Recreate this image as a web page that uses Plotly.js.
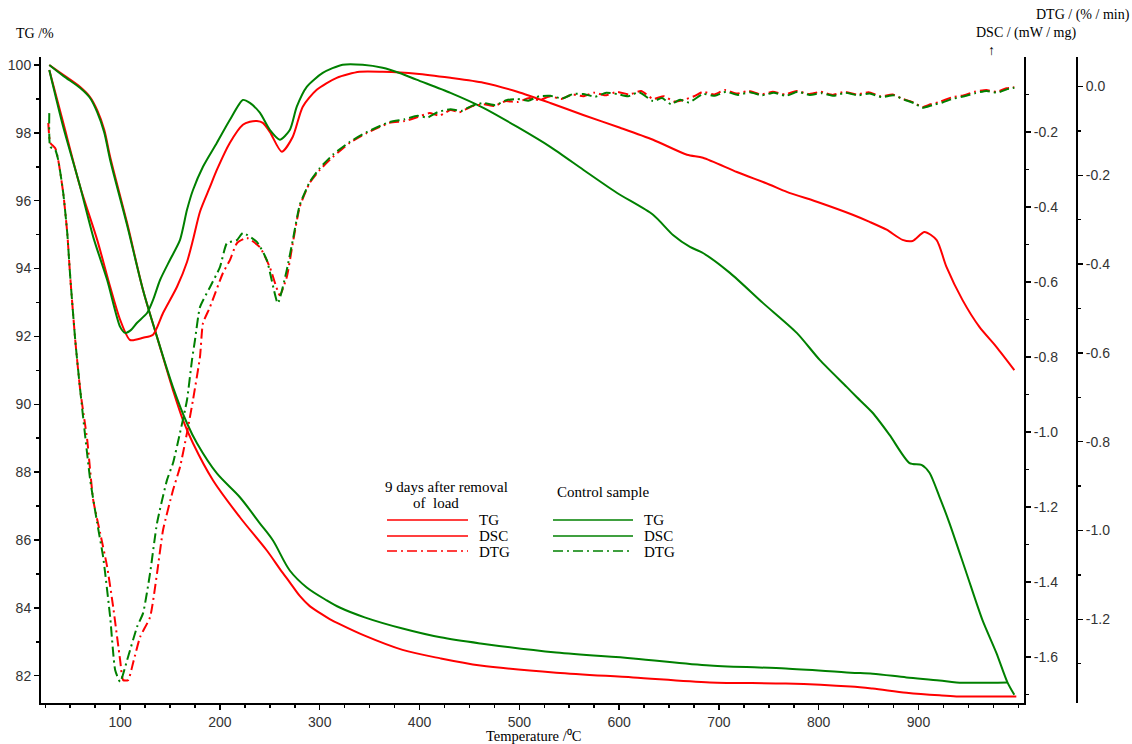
<!DOCTYPE html>
<html>
<head>
<meta charset="utf-8">
<script src="https://cdn.plot.ly/plotly-3.0.1.min.js"></script>
<style>
html,body{margin:0;padding:0;background:#fff;}
#chart{width:1132px;height:744px;}
</style>
</head>
<body>
<div id="chart"></div>
<script>
// ---------- data (temperature in °C) ----------
const redTG_T  = [29,43,60,70,77,84,90,107,123,137,153,163,173,193,220,247,260,270,280,290,300,310,320,345,383,421,461,537,614,691,767,832,854,888,921,938,970,998];
const redTG    = [100.0,99.71,99.35,99.05,98.67,98.10,97.29,95.34,93.36,91.98,90.41,89.53,88.85,87.76,86.67,85.69,85.15,84.75,84.35,84.05,83.85,83.67,83.52,83.18,82.76,82.51,82.30,82.09,81.95,81.80,81.77,81.68,81.62,81.50,81.42,81.39,81.39,81.39];

const greenTG_T = [29,43,60,70,77,84,90,107,123,137,153,167,177,197,220,240,253,270,287,307,320,345,383,421,461,537,614,691,767,832,854,888,921,938,989];
const greenTG   = [100.0,99.68,99.32,99.02,98.61,98.02,97.20,95.28,93.36,91.98,90.50,89.44,88.85,87.96,87.26,86.49,85.99,85.10,84.60,84.22,84.01,83.72,83.39,83.13,82.95,82.68,82.51,82.30,82.21,82.09,82.06,81.95,81.86,81.80,81.80];

const redDSC_T = [29,43,60,77,90,100,110,123,133,143,157,167,173,180,190,197,210,223,230,237,243,250,262,273,283,297,317,340,363,397,431,464,498,531,564,601,634,668,684,718,751,768,801,834,851,868,884,894,906,918,928,944,961,978,996];
const redDSC   = [-0.035,-0.176,-0.347,-0.488,-0.613,-0.701,-0.755,-0.749,-0.741,-0.683,-0.613,-0.547,-0.488,-0.413,-0.347,-0.301,-0.229,-0.181,-0.173,-0.171,-0.176,-0.200,-0.253,-0.213,-0.133,-0.088,-0.056,-0.040,-0.040,-0.045,-0.056,-0.069,-0.093,-0.123,-0.155,-0.189,-0.221,-0.261,-0.269,-0.307,-0.341,-0.360,-0.389,-0.421,-0.440,-0.461,-0.488,-0.491,-0.467,-0.488,-0.560,-0.648,-0.720,-0.773,-0.835];

const greenDSC_T = [29,43,60,73,87,100,105,111,117,127,133,140,150,160,167,173,183,197,210,223,230,240,250,260,270,277,287,303,323,343,363,380,397,431,464,498,531,564,598,634,654,671,684,711,744,778,801,828,838,854,871,891,903,911,921,931,948,964,978,989,996];
const greenDSC   = [-0.035,-0.187,-0.347,-0.480,-0.595,-0.720,-0.736,-0.728,-0.709,-0.683,-0.648,-0.595,-0.541,-0.488,-0.408,-0.355,-0.293,-0.229,-0.168,-0.115,-0.123,-0.149,-0.195,-0.221,-0.195,-0.133,-0.080,-0.043,-0.021,-0.021,-0.029,-0.043,-0.061,-0.096,-0.136,-0.187,-0.240,-0.301,-0.363,-0.421,-0.475,-0.507,-0.523,-0.576,-0.656,-0.736,-0.808,-0.880,-0.907,-0.949,-1.008,-1.083,-1.088,-1.109,-1.173,-1.243,-1.376,-1.501,-1.589,-1.667,-1.701];

const redDTG_T = [28,30,35,38,43,47,50,55,60,67,73,80,87,93,100,103,108,113,120,130,137,143,153,160,167,173,180,183,190,203,210,217,227,240,250,260,267,273,280,290,300,313,330,347,370,385,398,410,420,431,440,452,464,475,486,498,510,520,531,542,553,564,575,586,598,610,622,634,645,655,665,675,684,695,706,718,730,742,754,766,778,790,802,814,826,838,850,862,874,884,894,904,912,922,934,945,956,968,978,988,996];
const redDTG   = [-0.082,-0.127,-0.139,-0.166,-0.240,-0.330,-0.429,-0.571,-0.684,-0.796,-0.931,-1.006,-1.082,-1.172,-1.292,-1.337,-1.337,-1.298,-1.240,-1.195,-1.096,-0.999,-0.909,-0.857,-0.780,-0.706,-0.609,-0.533,-0.497,-0.420,-0.391,-0.353,-0.341,-0.362,-0.407,-0.470,-0.429,-0.353,-0.271,-0.217,-0.188,-0.159,-0.127,-0.105,-0.082,-0.078,-0.069,-0.060,-0.066,-0.053,-0.058,-0.045,-0.040,-0.044,-0.033,-0.035,-0.026,-0.031,-0.022,-0.028,-0.018,-0.022,-0.014,-0.020,-0.012,-0.018,-0.010,-0.028,-0.022,-0.034,-0.030,-0.022,-0.012,-0.018,-0.008,-0.016,-0.010,-0.018,-0.012,-0.018,-0.010,-0.017,-0.012,-0.019,-0.012,-0.018,-0.013,-0.022,-0.018,-0.028,-0.035,-0.046,-0.040,-0.034,-0.024,-0.020,-0.012,-0.008,-0.012,-0.004,-0.002];

const greenDTG_T = [29,30,35,38,43,47,50,55,60,70,77,83,90,95,100,107,117,123,130,137,147,153,160,167,172,175,180,190,200,207,217,223,237,247,258,267,273,280,290,300,313,330,347,370,385,398,408,418,431,442,453,464,476,487,498,509,520,531,543,554,564,576,587,598,609,620,634,643,652,661,670,684,696,707,719,731,743,755,767,779,791,803,815,827,839,851,863,875,886,896,904,914,924,934,946,957,968,979,989,996];
const greenDTG   = [-0.060,-0.136,-0.143,-0.166,-0.240,-0.330,-0.429,-0.571,-0.684,-0.886,-0.983,-1.060,-1.195,-1.314,-1.341,-1.292,-1.217,-1.186,-1.096,-0.983,-0.886,-0.848,-0.780,-0.706,-0.616,-0.571,-0.497,-0.452,-0.407,-0.353,-0.346,-0.330,-0.350,-0.391,-0.488,-0.413,-0.346,-0.267,-0.215,-0.184,-0.154,-0.125,-0.103,-0.080,-0.074,-0.066,-0.070,-0.058,-0.051,-0.055,-0.043,-0.037,-0.042,-0.031,-0.028,-0.032,-0.022,-0.021,-0.027,-0.017,-0.017,-0.023,-0.014,-0.017,-0.022,-0.013,-0.033,-0.026,-0.040,-0.030,-0.036,-0.017,-0.021,-0.012,-0.019,-0.013,-0.020,-0.014,-0.021,-0.012,-0.019,-0.015,-0.021,-0.014,-0.020,-0.016,-0.024,-0.020,-0.030,-0.038,-0.048,-0.042,-0.036,-0.028,-0.022,-0.015,-0.010,-0.014,-0.006,-0.003];

// tick labels
const xTicks = [100,200,300,400,500,600,700,800,900];
const tgTicks = [82,84,86,88,90,92,94,96,98,100];
const dscTickVals = [-0.2,-0.4,-0.6,-0.8,-1.0,-1.2,-1.4,-1.6];
const dscTickText = ["-0.2","-0.4","-0.6","-0.8","-1.0","-1.2","-1.4","-1.6"];
const dtgTickVals = [0,-0.2,-0.4,-0.6,-0.8,-1.0,-1.2];
const dtgTickText = ["0.0","-0.2","-0.4","-0.6","-0.8","-1.0","-1.2"];

const RED = "#ff0000", GREEN = "#008000";
const DASHDOT = "10px,4px,2px,4px";

function tr(x, y, color, axis, dash, name, sm){
  return {x:x, y:y, yaxis:axis, type:"scatter", mode:"lines", name:name,
    line:{color:color, width:2, dash:dash||"solid", shape:"spline", smoothing:sm||0.5},
    showlegend:false, hoverinfo:"skip"};
}

const traces = [
  tr(redTG_T, redTG, RED, "y", null, "TG", 0.9),
  tr(greenTG_T, greenTG, GREEN, "y", null, "TG", 0.9),
  tr(redDSC_T, redDSC, RED, "y2", null, "DSC", 0.7),
  tr(greenDSC_T, greenDSC, GREEN, "y2", null, "DSC", 0.7),
  tr(redDTG_T, redDTG, RED, "y3", DASHDOT, "DTG", 0.5),
  tr(greenDTG_T, greenDTG, GREEN, "y3", DASHDOT, "DTG", 0.5)
];

// pixel helpers for annotations (plot area: x 41..1077, y 57..703)
const L=41, R=1077, T=57, B=703;
const px = v => (v-L)/(R-L);
const py = v => (B-v)/(B-T);
const serif = "Liberation Serif, Times New Roman, serif";

function ann(text, x, y, size, xanchor){
  return {text:text, x:px(x), y:py(y), xref:"paper", yref:"paper", showarrow:false,
    xanchor:xanchor||"center", yanchor:"middle", font:{family:serif, size:size||15, color:"#000"}};
}
function legLine(x0, x1, y, color, dash){
  return {type:"line", xref:"paper", yref:"paper", x0:px(x0), x1:px(x1), y0:py(y), y1:py(y),
    line:{color:color, width:1.5, dash:dash||"solid"}};
}

const axisCommon = {showline:true, linecolor:"#000", linewidth:2, ticks:"outside", ticklen:5,
  tickcolor:"#000", tickwidth:1.5, showgrid:false, zeroline:false,
  tickfont:{family:"Liberation Sans, Arial, sans-serif", size:14, color:"#333"}};

const layout = {
  width:1132, height:744,
  margin:{l:L, r:1132-R, t:T, b:744-B, pad:0},
  paper_bgcolor:"#fff", plot_bgcolor:"#fff",
  showlegend:false,
  xaxis: Object.assign({}, axisCommon, {
    domain:[0, (1024-L)/(R-L)], range:[20.7, 1005.7], tickvals:xTicks,
    minor:{dtick:25, tick0:0, ticks:"outside", ticklen:3, tickcolor:"#000"}
  }),
  yaxis: Object.assign({}, axisCommon, {
    range:[81.195, 100.236], tickvals:tgTicks,
    minor:{dtick:1, tick0:0, ticks:"outside", ticklen:3, tickcolor:"#000"}
  }),
  yaxis2: Object.assign({}, axisCommon, {
    overlaying:"y", side:"right", anchor:"x", range:[-1.7227, -0.0005],
    tickvals:dscTickVals, ticktext:dscTickText,
    minor:{dtick:0.1, tick0:0, ticks:"outside", ticklen:3, tickcolor:"#000"}
  }),
  yaxis3: Object.assign({}, axisCommon, {
    overlaying:"y", side:"right", anchor:"free", position:1, range:[-1.3885, 0.0664],
    tickvals:dtgTickVals, ticktext:dtgTickText,
    minor:{dtick:0.1, tick0:0, ticks:"outside", ticklen:3, tickcolor:"#000"}
  }),
  annotations:[
    ann("TG /%", 35, 33, 14),
    ann("DSC / (mW / mg)", 1026, 33, 14),
    ann("↑", 991, 50, 14),
    ann("DTG / (% / min)", 1083, 15, 14),
    ann("Temperature /⁰C", 533, 736, 14.5),
    ann("9 days after removal", 446, 487, 15),
    ann("of  load", 436, 503, 15),
    ann("Control sample", 603, 492, 15),
    ann("TG", 477, 520, 15, "left"),
    ann("DSC", 477, 536, 15, "left"),
    ann("DTG", 477, 552, 15, "left"),
    ann("TG", 642, 520, 15, "left"),
    ann("DSC", 642, 536, 15, "left"),
    ann("DTG", 642, 552, 15, "left")
  ],
  shapes:[
    legLine(387, 468, 520, RED),
    legLine(387, 468, 536, RED),
    legLine(387, 468, 551, RED, DASHDOT),
    legLine(553, 633, 520, GREEN),
    legLine(553, 633, 536, GREEN),
    legLine(553, 633, 551, GREEN, DASHDOT)
  ]
};

Plotly.newPlot("chart", traces, layout, {staticPlot:true, displayModeBar:false});
</script>
</body>
</html>
